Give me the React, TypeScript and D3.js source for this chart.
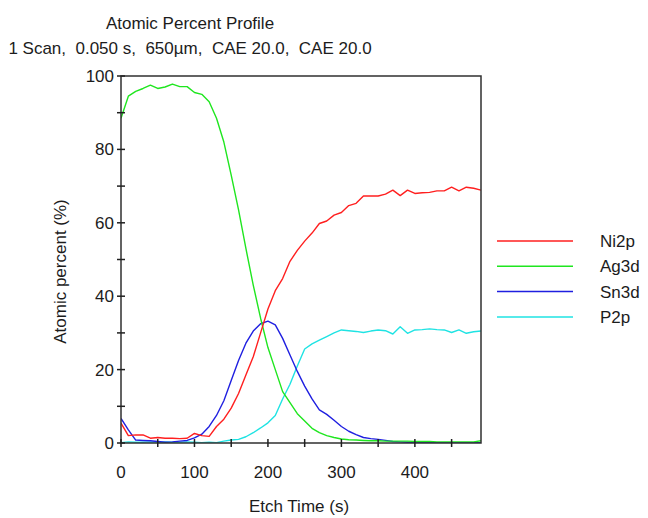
import React, { useEffect, useRef } from "react";
import * as d3 from "d3";

// etch time (s)
const times = [
  0, 10, 20, 30, 40, 50, 60, 70, 80, 90,
  100, 110, 120, 130, 140, 150, 160, 170, 180, 190,
  200, 210, 220, 230, 240, 250, 260, 270, 280, 290,
  300, 310, 320, 330, 340, 350, 360, 370, 380, 390,
  400, 410, 420, 430, 440, 450, 460, 470, 480, 490,
];

const ni2p = [
  5.4, 2.0, 2.2, 2.2, 1.3, 1.5, 1.3, 1.3, 1.2, 1.3,
  2.6, 2.0, 1.8, 4.5, 6.5, 9.5, 13.5, 18.5, 23.5, 30.0,
  36.5, 41.5, 44.8, 49.5, 52.5, 55.0, 57.2, 59.8, 60.5, 62.1,
  62.8, 64.7, 65.3, 67.3, 67.3, 67.3, 67.8, 68.9, 67.4, 68.9,
  68.0, 68.2, 68.3, 68.7, 68.7, 69.7, 68.7, 69.7, 69.4, 68.9,
];

const ag3d = [
  88.5, 94.5, 95.8, 96.6, 97.5, 96.6, 97.0, 97.8, 97.1, 97.1,
  95.5, 95.0, 93.0, 88.5, 82.0, 73.0, 63.5, 53.0, 43.0, 34.0,
  26.0, 20.0, 14.0, 11.0, 8.0, 6.0, 4.0, 2.8, 2.0, 1.5,
  1.1, 0.9, 0.8, 0.7, 0.6, 0.6, 0.5, 0.5, 0.5, 0.5,
  0.4, 0.4, 0.4, 0.3, 0.3, 0.3, 0.3, 0.3, 0.3, 0.6,
];

const sn3d = [
  6.7, 3.6, 0.8, 0.7, 0.6, 0.4, 0.2, 0.3, 0.5, 0.7,
  1.4, 2.4, 4.5, 7.5, 11.5, 17.0, 22.5, 27.2, 30.5, 32.5,
  33.2, 32.2, 28.5, 24.0, 19.5, 15.5, 12.0, 9.0, 7.8, 6.2,
  4.5, 3.2, 2.3, 1.5, 1.2, 1.0, 0.7, 0.4, 0.3, 0.2,
  0.1, 0.1, 0.1, 0.1, 0.1, 0.1, 0.1, 0.1, 0.1, 0.1,
];

const p2p = [
  0.1, 0.3, 0.2, 0.2, 0.3, 0.2, 0.3, 0.2, 0.2, 0.3,
  0.2, 0.1, 0.2, 0.1, 0.5, 0.8, 1.0, 1.7, 2.8, 4.1,
  5.5, 7.5, 12.0, 16.0, 21.0, 25.6, 27.0, 28.0, 29.0, 30.0,
  30.8, 30.6, 30.4, 30.1, 30.5, 30.8, 30.6, 29.7, 31.7, 29.9,
  30.8, 30.9, 31.1, 30.9, 30.8, 30.1, 30.8, 29.9, 30.3, 30.5,
];

const seriesNames = ["Ni2p", "Ag3d", "Sn3d", "P2p"];
const seriesValues = [ni2p, ag3d, sn3d, p2p];
const seriesColors = ["#ff1f1f", "#1fe61f", "#1f1fe0", "#1fe3e3"];

const xTicks = [0, 100, 200, 300, 400];
const yTicks = [0, 20, 40, 60, 80, 100];

const App = () => {
  const ref = useRef<SVGSVGElement | null>(null);

  useEffect(() => {
    const svg = d3.select(ref.current);
    svg.selectAll("*").remove();

    const font = "'Liberation Sans', Arial, sans-serif";
    const ink = "#1c1c1c";
    const fs = "17px";

    // plot box
    const left = 121;
    const right = 481;
    const top = 76;
    const bottom = 443;

    const x = d3.scaleLinear().domain([0, 490]).range([left, right]);
    const y = d3.scaleLinear().domain([0, 100]).range([bottom, top]);

    // titles
    svg.append("text")
      .attr("x", 190).attr("y", 29)
      .attr("text-anchor", "middle")
      .style("font-family", font).style("font-size", fs).style("fill", ink)
      .text("Atomic Percent Profile");
    svg.append("text")
      .attr("x", 190).attr("y", 54)
      .attr("text-anchor", "middle")
      .style("font-family", font).style("font-size", fs).style("fill", ink)
      .style("white-space", "pre")
      .text("1 Scan,  0.050 s,  650µm,  CAE 20.0,  CAE 20.0");

    // series lines (clipped to plot)
    svg.append("clipPath").attr("id", "plot-clip")
      .append("rect")
      .attr("x", left).attr("y", top - 2)
      .attr("width", right - left).attr("height", bottom - top + 2);

    const line = d3.line<number>()
      .x((_, i) => x(times[i]))
      .y(d => y(d));

    // draw in reverse so Ni2p ends up on top
    const order = [3, 2, 1, 0];
    order.forEach(k => {
      svg.append("path")
        .attr("d", line(seriesValues[k]) ?? "")
        .attr("clip-path", "url(#plot-clip)")
        .attr("fill", "none")
        .attr("stroke", seriesColors[k])
        .attr("stroke-width", 1.4)
        .attr("stroke-linejoin", "round");
    });

    // frame
    svg.append("path")
      .attr("d", `M${left},${bottom}V${top}H${right}V${bottom}Z`)
      .attr("fill", "none")
      .attr("stroke", "#303030")
      .attr("stroke-width", 1.5);

    // ticks crossing axes
    const yMinor = d3.range(0, 101, 10);
    svg.selectAll("line.ytick")
      .data(yMinor)
      .enter()
      .append("line")
      .attr("class", "ytick")
      .attr("x1", left - 4).attr("x2", left + 4)
      .attr("y1", d => y(d)).attr("y2", d => y(d))
      .attr("stroke", "#202020").attr("stroke-width", 1.5);

    const xMinor = d3.range(0, 451, 50);
    svg.selectAll("line.xtick")
      .data(xMinor)
      .enter()
      .append("line")
      .attr("class", "xtick")
      .attr("x1", d => x(d)).attr("x2", d => x(d))
      .attr("y1", bottom - 4).attr("y2", bottom + 4)
      .attr("stroke", "#202020").attr("stroke-width", 1.5);

    // tick labels
    svg.selectAll("text.ylab")
      .data(yTicks)
      .enter()
      .append("text")
      .attr("class", "ylab")
      .attr("x", left - 7)
      .attr("y", d => y(d) + 6)
      .attr("text-anchor", "end")
      .style("font-family", font).style("font-size", fs).style("fill", ink)
      .text(d => d);

    svg.selectAll("text.xlab")
      .data(xTicks)
      .enter()
      .append("text")
      .attr("class", "xlab")
      .attr("x", d => x(d))
      .attr("y", 478)
      .attr("text-anchor", "middle")
      .style("font-family", font).style("font-size", fs).style("fill", ink)
      .text(d => d);

    // axis titles
    svg.append("text")
      .attr("x", (left + right) / 2 - 2).attr("y", 512)
      .attr("text-anchor", "middle")
      .style("font-family", font).style("font-size", fs).style("fill", ink)
      .text("Etch Time (s)");
    svg.append("text")
      .attr("transform", `translate(66, ${(top + bottom) / 2 + 12}) rotate(-90)`)
      .attr("text-anchor", "middle")
      .style("font-family", font).style("font-size", fs).style("fill", ink)
      .text("Atomic percent (%)");

    // legend
    const legend = svg.selectAll("g.legend")
      .data(seriesNames)
      .enter()
      .append("g")
      .attr("class", "legend")
      .attr("transform", (_, i) => `translate(0, ${241 + i * 25.3})`);
    legend.append("line")
      .attr("x1", 497).attr("x2", 573)
      .attr("y1", 0).attr("y2", 0)
      .attr("stroke", (_, i) => seriesColors[i])
      .attr("stroke-width", 1.5);
    legend.append("text")
      .attr("x", 600).attr("y", 6)
      .style("font-family", font).style("font-size", fs).style("fill", ink)
      .text(d => d);
  }, []);

  return (
    <svg
      ref={ref}
      width={648}
      height={518}
      style={{ position: "absolute", left: 0, top: 0, background: "#fff" }}
    />
  );
};

export default App;
